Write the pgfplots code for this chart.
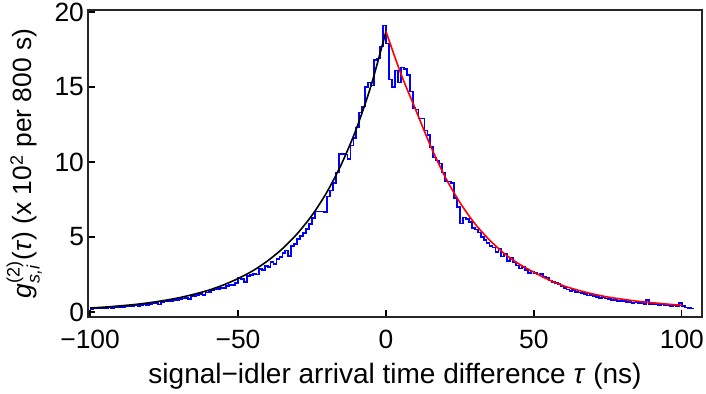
\documentclass[border=0pt]{standalone}
\usepackage{pgfplots}
\pgfplotsset{compat=1.18}
\usepackage{fontspec}
\setmainfont{Liberation Sans}
\begin{document}
\begin{tikzpicture}
\path[use as bounding box] (-44pt,-38.5pt) rectangle (309pt,158.5pt);
\begin{axis}[
  at={(0,0)}, anchor=south west,
  scale only axis,
  width=307pt, height=153.5pt,
  xmin=-100.7, xmax=106.8, ymin=-0.33, ymax=20.13,
  xtick={-100,-50,0,50,100},
  xticklabels={−100,−50,0,50,100},
  ytick={0,5,10,15,20},
  yticklabels={0,5,10,15,20},
  tick align=inside, xtick pos=bottom, ytick pos=left,
  major tick length=3.5pt,
  tick style={line width=0.6pt, black},
  axis line style={line width=0.9pt, black!85},
  ticklabel style={font=\fontsize{13.2}{15}\selectfont},
  xticklabel style={yshift=-3pt},
  yticklabel style={xshift=1.5pt},
  label style={font=\fontsize{13.2}{15}\selectfont},
  xlabel={signal−idler arrival time difference \textit{τ} (ns)},
  ylabel={\textit{g}$^{\mbox{\fontsize{9}{10}\selectfont(2)}}_{\mbox{\fontsize{9}{10}\selectfont\textit{s,i}}}$(\textit{τ}) (x 10$^{\mbox{\fontsize{9}{10}\selectfont 2}}$ per 800 s)},
  xlabel style={yshift=-0.5pt, font=\fontsize{14}{16}\selectfont},
  ylabel style={yshift=-0.5pt},
  clip=true,
]
\addplot[const plot, blue, line width=0.9pt] coordinates {
(-100,0.22) (-99,0.24) (-98,0.25) (-97,0.24) (-96,0.27) (-95,0.26) (-94,0.30) (-93,0.29) (-92,0.31) (-91,0.30)
(-90,0.35) (-89,0.33) (-88,0.38) (-87,0.37) (-86,0.40) (-85,0.43) (-84,0.42) (-83,0.47) (-82,0.50) (-81,0.46)
(-80,0.55) (-79,0.57) (-78,0.60) (-77,0.50) (-76,0.66) (-75,0.70) (-74,0.74) (-73,0.72) (-72,0.80) (-71,0.82)
(-70,0.88) (-69,0.90) (-68,0.95) (-67,0.86) (-66,1.05) (-65,1.08) (-64,1.12) (-63,1.20) (-62,1.15) (-61,1.30)
(-60,1.35) (-59,1.44) (-58,1.50) (-57,1.55) (-56,1.62) (-55,1.60) (-54,1.75) (-53,1.82) (-52,1.78) (-51,1.95)
(-50,2.25) (-49,2.20) (-48,2.00) (-47,2.40) (-46,2.45) (-45,2.55) (-44,2.50) (-43,2.85) (-42,2.80) (-41,3.05)
(-40,3.00) (-39,3.35) (-38,3.20) (-37,3.55) (-36,3.65) (-35,3.95) (-34,4.10) (-33,3.75) (-32,4.40) (-31,4.55)
(-30,4.85) (-29,5.05) (-28,5.25) (-27,5.55) (-26,5.85) (-25,6.25) (-24,6.70) (-23,6.70) (-22,6.70) (-21,6.65)
(-20,7.70) (-19,8.10) (-18,8.60) (-17,9.30) (-16,10.55) (-15,10.55) (-14,10.50) (-13,10.20) (-12,11.10) (-11,11.60)
(-10,12.30) (-9,13.30) (-8,13.70) (-7,15.00) (-6,15.30) (-5,15.10) (-4,16.80) (-3,16.90) (-2,17.70) (-1,19.10)
(0,17.9) (1,15.5) (2,15.0) (3,16.1) (4,15.3) (5,16.3) (6,16.2) (7,15.8) (8,14.7) (9,13.6)
(10,13.5) (11,12.9) (12,12.9) (13,12.1) (14,11.8) (15,11.0) (16,10.3) (17,10.1) (18,9.9) (19,9.3)
(20,8.7) (21,8.7) (22,8.6) (23,7.6) (24,7.0) (25,5.9) (26,6.3) (27,6.2) (28,6.0) (29,5.6)
(30,5.5) (31,5.3) (32,5.0) (33,4.8) (34,4.6) (35,4.4) (36,4.3) (37,4.0) (38,4.2) (39,3.7)
(40,3.9) (41,3.4) (42,3.6) (43,3.3) (44,3.1) (45,2.9) (46,3.0) (47,2.8) (48,2.6) (49,2.7)
(50,2.6) (51,2.5) (52,2.55) (53,2.35) (54,2.3) (55,2.1) (56,2.0) (57,1.95) (58,1.85) (59,1.75)
(60,1.62) (61,1.5) (62,1.4) (63,1.45) (64,1.35) (65,1.3) (66,1.25) (67,1.2) (68,1.1) (69,1.15)
(70,1.05) (71,1.0) (72,0.95) (73,0.98) (74,0.9) (75,0.88) (76,0.8) (77,0.82) (78,0.75) (79,0.72)
(80,0.74) (81,0.68) (82,0.65) (83,0.62) (84,0.64) (85,0.58) (86,0.6) (87,0.55) (88,0.8) (89,0.55)
(90,0.52) (91,0.5) (92,0.48) (93,0.5) (94,0.45) (95,0.46) (96,0.42) (97,0.44) (98,0.40) (99,0.62)
(100,0.38) (101,0.30) (102,0.25) (103,0.24) (104,0.24)
};
\addplot[black, line width=0.8pt, smooth] coordinates {
(-100,0.27) (-95,0.33) (-90,0.41) (-85,0.50) (-80,0.62) (-75,0.77) (-70,0.95) (-65,1.18) (-60,1.45) (-55,1.80)
(-50,2.23) (-45,2.75) (-40,3.41) (-35,4.22) (-30,5.22) (-25,6.45) (-20,7.98) (-15,9.88) (-10,12.22) (-5,15.12) (0,18.7)
};
\addplot[red, line width=0.8pt, smooth] coordinates {
(0,18.7) (5,15.9) (10,13.5) (15,11.1) (20,9.0) (25,7.3) (30,5.9) (35,4.8) (40,3.9) (45,3.2) (50,2.65)
(55,2.15) (60,1.75) (65,1.45) (70,1.2) (75,1.0) (80,0.85) (85,0.72) (90,0.62) (95,0.53) (100,0.45)
};
\end{axis}
\end{tikzpicture}
\end{document}
